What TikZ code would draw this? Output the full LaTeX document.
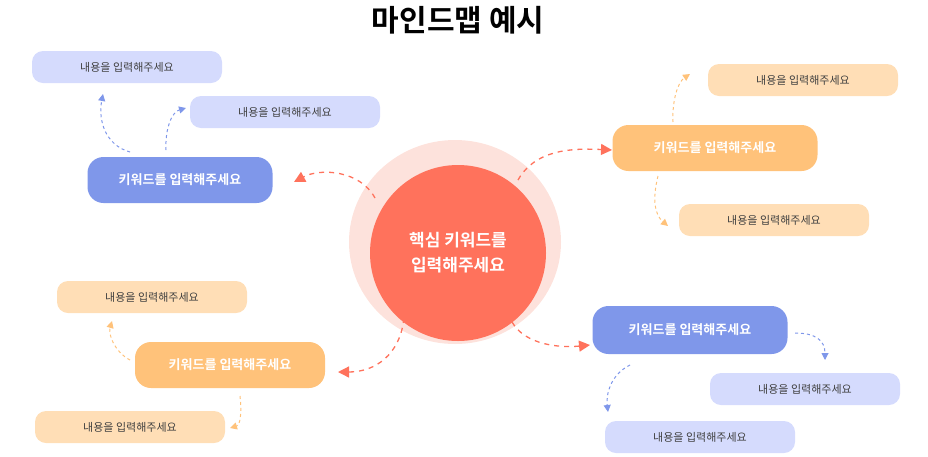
\documentclass[tikz,border=0pt]{standalone}
\usepackage{fontspec}
\setmainfont{Noto Sans CJK KR}
\newfontfamily\kb{Noto Sans CJK KR Bold}
\usetikzlibrary{arrows.meta}
\definecolor{pale}{HTML}{FDE2DC}
\definecolor{coral}{HTML}{FF725C}
\definecolor{blueK}{HTML}{7F97EA}
\definecolor{blueL}{HTML}{D5DBFD}
\definecolor{orK}{HTML}{FFC27A}
\definecolor{orL}{HTML}{FFDEB6}
\definecolor{arrB}{HTML}{7F97EA}
\definecolor{arrO}{HTML}{FFC27A}
\tikzset{
 kw/.style={fill=#1,rounded corners=16pt,minimum width=190pt,minimum height=46pt,text=white,font=\kb\fontsize{13}{15}\selectfont},
 lb/.style={fill=#1,rounded corners=11pt,minimum width=190pt,minimum height=32pt,text=black!75,font=\fontsize{11}{13}\selectfont},
 bigarr/.style={draw=coral,line width=1.3pt,dash pattern=on 5pt off 5pt,-{Triangle[length=11pt,width=11pt]}},
 smarr/.style={draw=#1,line width=1pt,dash pattern=on 3pt off 3pt,-{Triangle[length=7pt,width=7pt]}},
}
\begin{document}
\begin{tikzpicture}[x=1pt,y=-1pt]
\useasboundingbox (0,0) rectangle (928,456);
\node[font=\kb\fontsize{30}{34}\selectfont] (title) at (458,20) {마인드맵 예시};
\fill[pale] (455,242) ellipse (106 and 102);
\node[circle,fill=coral,minimum size=176pt,inner sep=0pt,text=white,align=center,font=\kb\fontsize{17}{25}\selectfont] (c) at (458,253) {핵심 키워드를\\입력해주세요};
% left-top branch
\node[kw=blueK,minimum width=185pt] (k1) at (180,180) {키워드를 입력해주세요};
\node[lb=blueL] (a1) at (127,67) {내용을 입력해주세요};
\node[lb=blueL] (a2) at (285,112) {내용을 입력해주세요};
% right-top
\node[kw=orK,minimum width=205pt] (k2) at (715,148) {키워드를 입력해주세요};
\node[lb=orL] (b1) at (803,80) {내용을 입력해주세요};
\node[lb=orL] (b2) at (774,220) {내용을 입력해주세요};
% bottom-left
\node[kw=orK] (k3) at (230,365) {키워드를 입력해주세요};
\node[lb=orL] (d1) at (152,297) {내용을 입력해주세요};
\node[lb=orL] (d2) at (130,427) {내용을 입력해주세요};
% bottom-right
\node[kw=blueK,minimum width=195pt,minimum height=48pt] (k4) at (690,330) {키워드를 입력해주세요};
\node[lb=blueL] (e1) at (805,389) {내용을 입력해주세요};
\node[lb=blueL] (e2) at (700,437) {내용을 입력해주세요};
% main arrows
\coordinate (s1) at (375,198); \coordinate (t1) at (294,182);
\draw[bigarr] (s1) .. controls (360,170) and (320,168) .. (t1);
\coordinate (s2) at (518,180); \coordinate (t2) at (612,150);
\draw[bigarr] (s2) .. controls (535,150) and (570,148) .. (t2);
\coordinate (s3) at (404,318); \coordinate (t3) at (338,372);
\draw[bigarr] (s3) .. controls (400,355) and (375,372) .. (t3);
\coordinate (s4) at (512,322); \coordinate (t4) at (590,345);
\draw[bigarr] (s4) .. controls (525,345) and (560,348) .. (t4);
% small arrows
\coordinate (p1) at (130,152); \coordinate (q1) at (103,94);
\draw[smarr=arrB] (p1) .. controls (105,145) and (98,120) .. (q1);
\coordinate (p2) at (166,150); \coordinate (q2) at (186,108);
\draw[smarr=arrB] (p2) .. controls (165,128) and (172,112) .. (q2);
\coordinate (p3) at (673,122); \coordinate (q3) at (690,74);
\draw[smarr=arrO] (p3) .. controls (672,100) and (678,82) .. (q3);
\coordinate (p4) at (658,176); \coordinate (q4) at (668,226);
\draw[smarr=arrO] (p4) .. controls (652,200) and (655,215) .. (q4);
\coordinate (p5) at (130,360); \coordinate (q5) at (112,321);
\draw[smarr=arrO] (p5) .. controls (115,352) and (108,335) .. (q5);
\coordinate (p6) at (240,396); \coordinate (q6) at (230,428);
\draw[smarr=arrO] (p6) .. controls (242,415) and (240,425) .. (q6);
\coordinate (p7) at (795,333); \coordinate (q7) at (825,360);
\draw[smarr=arrB] (p7) .. controls (815,333) and (825,340) .. (q7);
\coordinate (p8) at (630,365); \coordinate (q8) at (608,412);
\draw[smarr=arrB] (p8) .. controls (610,375) and (606,395) .. (q8);
\end{tikzpicture}
\end{document}
